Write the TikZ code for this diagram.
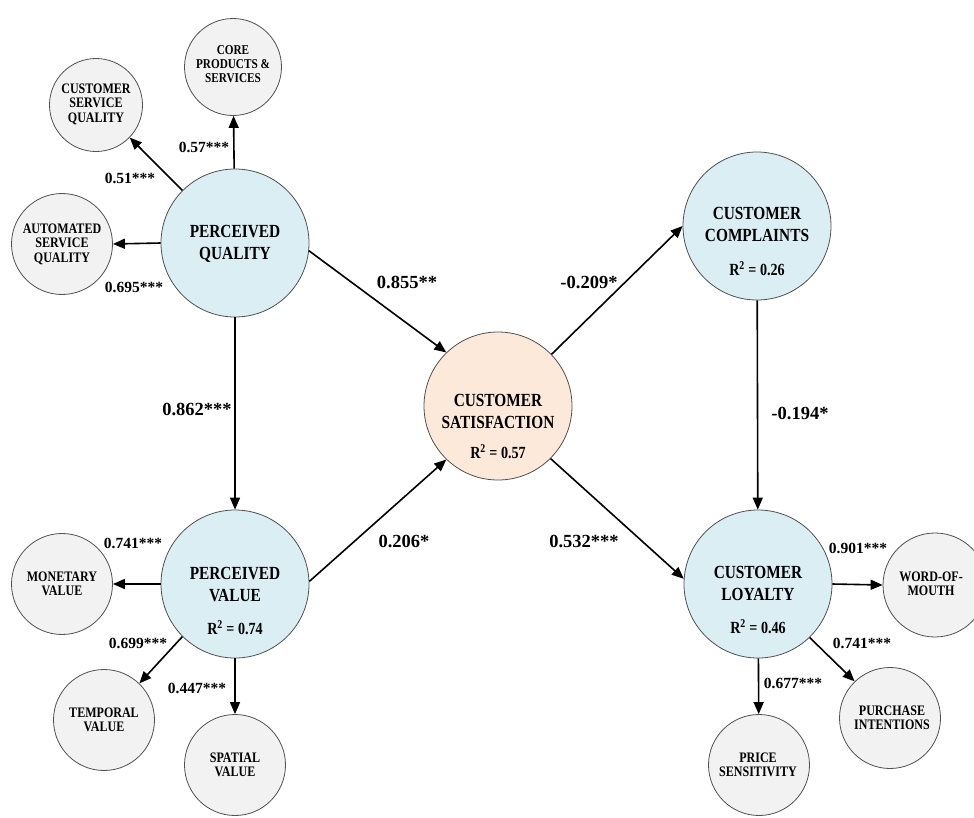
\documentclass[tikz,border=0pt]{standalone}
\usepackage{fontspec}
\setmainfont{Liberation Serif}
\newfontfamily\condfont{Liberation Serif}[FakeStretch=0.83]
\usetikzlibrary{arrows.meta}
\definecolor{bigfill}{HTML}{DBEEF4}
\definecolor{satfill}{HTML}{FDE9D9}
\definecolor{smallfill}{HTML}{F2F2F2}
\definecolor{edgegray}{HTML}{505050}
\begin{document}
\begin{tikzpicture}[x=1pt,y=-1pt,
 bigc/.style={circle, draw=edgegray, line width=0.8pt, fill=bigfill, minimum size=148pt, inner sep=0pt},
 smallc/.style={circle, draw=edgegray, line width=0.8pt, fill=smallfill, minimum size=101pt, inner sep=0pt},
 bigtext/.style={align=center, font=\condfont\bfseries\fontsize{18.5}{22}\selectfont, inner sep=0pt},
 rtext/.style={font=\condfont\bfseries\fontsize{17}{20}\selectfont, inner sep=0pt},
 smalltext/.style={align=center, font=\condfont\bfseries\fontsize{14.5}{14.5}\selectfont, inner sep=0pt},
 coef/.style={font=\bfseries\fontsize{15.5}{18}\selectfont, inner sep=0pt},
 bigcoef/.style={font=\bfseries\fontsize{18.5}{22}\selectfont, inner sep=0pt},
 arr/.style={line width=1.6pt, -{Triangle[length=12pt,width=10pt]}}]
\useasboundingbox (0,0) rectangle (974,817);

% large constructs
\node[bigc] (pq) at (235,243) {};
\node[bigc] (pv) at (235,584) {};
\node[bigc, fill=satfill] (cs) at (498,406) {};
\node[bigc] (cc) at (757,226) {};
\node[bigc] (cl) at (758,584) {};

% small indicators
\node[smallc, minimum size=97pt] (cps) at (233,67) {};
\node[smallc, minimum size=93pt] (csq) at (96,105) {};
\node[smallc] (asq) at (62,244) {};
\node[smallc] (mv) at (62,584) {};
\node[smallc] (tv) at (104,720) {};
\node[smallc] (sv) at (235,765) {};
\node[smallc, minimum size=104pt] (wom) at (935,585) {};
\node[smallc] (pi) at (890,718) {};
\node[smallc] (ps) at (759,765) {};

% texts in large circles
\node[bigtext] (pqt) at (235,244) {PERCEIVED\\QUALITY};
\node[bigtext] (pvt) at (235,585) {PERCEIVED\\VALUE};
\node[rtext] (pvr) at (235,628) {R\textsuperscript{2} = 0.74};
\node[bigtext] (cst) at (498,411) {CUSTOMER\\SATISFACTION};
\node[rtext] (csr) at (498,452) {R\textsuperscript{2} = 0.57};
\node[bigtext] (cct) at (757,224) {CUSTOMER\\COMPLAINTS};
\node[rtext] (ccr) at (757,269) {R\textsuperscript{2} = 0.26};
\node[bigtext] (clt) at (758,583) {CUSTOMER\\LOYALTY};
\node[rtext] (clr) at (758,627) {R\textsuperscript{2} = 0.46};

% texts in small circles
\node[smalltext, font=\condfont\bfseries\fontsize{13.5}{14}\selectfont] (cpst) at (233,64) {CORE\\PRODUCTS \&\\SERVICES};
\node[smalltext] (csqt) at (96,104) {CUSTOMER\\SERVICE\\QUALITY};
\node[smalltext] (asqt) at (62,244) {AUTOMATED\\SERVICE\\QUALITY};
\node[smalltext] (mvt) at (62,584) {MONETARY\\VALUE};
\node[smalltext] (tvt) at (104,720) {TEMPORAL\\VALUE};
\node[smalltext] (svt) at (235,765) {SPATIAL\\VALUE};
\node[smalltext] (womt) at (931,584) {WORD-OF-\\MOUTH};
\node[smalltext] (pit) at (892,718) {PURCHASE\\INTENTIONS};
\node[smalltext] (pst) at (758,765) {PRICE\\SENSITIVITY};

% arrows
\draw[arr] (pq) -- (cps);
\draw[arr] (pq.135) -- (csq.-44);
\draw[arr] (pq.west) -- (asq.east);
\draw[arr] (pq.-6) -- (cs.134);
\draw[arr] (pq) -- (pv);
\draw[arr] (pv.2) -- (cs.-134);
\draw[arr] (cs.44) -- (cc.180);
\draw[arr] (cs.-45) -- (cl.176);
\draw[arr] (cc) -- (cl);
\draw[arr] (pv.west) -- (mv.east);
\draw[arr] (pv.225) -- (tv.46);
\draw[arr] (pv) -- (sv);
\draw[arr] (cl.east) -- (wom.west);
\draw[arr] (cl.-46) -- (pi.134);
\draw[arr] (cl) -- (ps);

% coefficients
\node[coef] (l1) at (204,147) {0.57***};
\node[coef] (l2) at (130,178) {0.51***};
\node[coef] (l3) at (134,287) {0.695***};
\node[coef] (l4) at (133,543) {0.741***};
\node[coef] (l5) at (138,643) {0.699***};
\node[coef] (l6) at (197,688) {0.447***};
\node[coef] (l7) at (858,548) {0.901***};
\node[coef] (l8) at (862,643) {0.741***};
\node[coef] (l9) at (793,683) {0.677***};
\node[bigcoef] (m1) at (407,282) {0.855**};
\node[bigcoef] (m2) at (589,282) {-0.209*};
\node[bigcoef] (m3) at (197,409) {0.862***};
\node[bigcoef] (m4) at (404,541) {0.206*};
\node[bigcoef] (m5) at (584,541) {0.532***};
\node[bigcoef] (m6) at (800,413) {-0.194*};
\end{tikzpicture}
\end{document}
